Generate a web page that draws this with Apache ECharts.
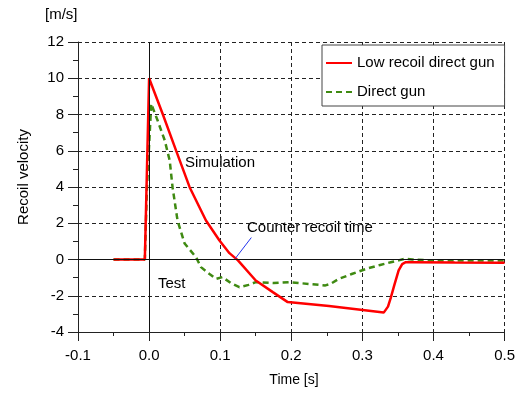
<!DOCTYPE html>
<html><head><meta charset="utf-8">
<script src="https://cdn.jsdelivr.net/npm/echarts@6/dist/echarts.min.js"></script>
<style>html,body{margin:0;padding:0;background:#fff}#c{width:518px;height:395px}</style>
</head><body><div id="c"></div>
<script>
const seriesNames = ['Low recoil direct gun', 'Direct gun'];
const lowRecoilT = [-0.05, -0.006, 0.0, 0.019, 0.038, 0.057, 0.080, 0.099, 0.113, 0.125, 0.150, 0.174, 0.195, 0.253, 0.330, 0.336, 0.340, 0.345, 0.351, 0.356, 0.361, 0.370, 0.430, 0.500];
const lowRecoilV = [0, 0, 10.0, 8.04, 6.01, 3.99, 2.15, 1.05, 0.35, -0.05, -1.16, -1.80, -2.35, -2.57, -2.93, -2.6, -2.1, -1.4, -0.6, -0.25, -0.15, -0.15, -0.17, -0.18];
const directT = [-0.05, -0.006, -0.003, 0.003, 0.012, 0.022, 0.029, 0.033, 0.040, 0.050, 0.066, 0.073, 0.085, 0.094, 0.103, 0.115, 0.127, 0.140, 0.150, 0.175, 0.197, 0.225, 0.248, 0.255, 0.267, 0.285, 0.305, 0.325, 0.340, 0.351, 0.360, 0.370, 0.400, 0.450, 0.500];
const directV = [0, 0, 4.0, 8.59, 7.67, 6.57, 5.46, 3.99, 2.15, 0.88, 0.13, -0.42, -0.8, -1.07, -0.97, -1.3, -1.53, -1.4, -1.25, -1.3, -1.25, -1.35, -1.43, -1.35, -1.07, -0.8, -0.52, -0.3, -0.15, -0.05, 0.05, 0.0, -0.05, -0.05, -0.05];
const xTicks = [-0.1, 0.0, 0.1, 0.2, 0.3, 0.4, 0.5];
const yTicks = [-4, -2, 0, 2, 4, 6, 8, 10, 12];
const counterArrow = [[0.1438, 1.21], [0.1213, 0.06]];

const FONT = '"Liberation Sans", Arial, sans-serif';
const zip = (a, b) => a.map((v, i) => [v, b[i]]);
const chart = echarts.init(document.getElementById('c'));
chart.setOption({
  animation: false,
  backgroundColor: '#fff',
  textStyle: { fontFamily: FONT, color: '#000' },
  grid: { left: 78, right: 12, top: 42, bottom: 63 },
  legend: {
    orient: 'vertical', left: 322, top: 45,
    data: seriesNames,
    backgroundColor: '#fff', borderColor: '#444', borderWidth: 1, borderRadius: 0,
    padding: [9, 10, 5, 3], itemGap: 11, itemWidth: 26, itemHeight: 14,
    itemStyle: { opacity: 0 },
    textStyle: { fontSize: 15, fontFamily: FONT, color: '#000', lineHeight: 18 }
  },
  xAxis: {
    type: 'value', min: xTicks[0], max: xTicks[xTicks.length - 1], interval: 0.1,
    axisLine: { onZero: false, lineStyle: { color: '#222', width: 1 } },
    axisTick: { length: 9, lineStyle: { color: '#222' } },
    minorTick: { show: true, splitNumber: 2, length: 4, lineStyle: { color: '#222' } },
    axisLabel: { fontSize: 15, fontFamily: FONT, color: '#000', margin: 16, formatter: v => v.toFixed(1) },
    splitLine: { show: true, lineStyle: { color: '#222', type: [4, 3], width: 1 } }
  },
  yAxis: {
    type: 'value', min: yTicks[0], max: yTicks[yTicks.length - 1], interval: 2,
    axisLine: { show: true, onZero: false, lineStyle: { color: '#222', width: 1 } },
    axisTick: { show: true, length: 10, lineStyle: { color: '#222' } },
    minorTick: { show: true, splitNumber: 2, length: 5, lineStyle: { color: '#222' } },
    axisLabel: { fontSize: 15, fontFamily: FONT, color: '#000', margin: 14 },
    splitLine: { show: true, lineStyle: { color: '#222', type: [4, 3], width: 1 } }
  },
  series: [
    {
      name: seriesNames[0], type: 'line', data: zip(lowRecoilT, lowRecoilV),
      symbol: 'none', smooth: false, z: 4,
      lineStyle: { color: '#ff0000', width: 2.5 }, itemStyle: { color: '#ff0000' },
      markLine: {
        silent: true, symbol: 'none', label: { show: false },
        lineStyle: { color: '#111', type: 'solid', width: 1 },
        data: [{ yAxis: 0 }, { xAxis: 0 }]
      }
    },
    {
      name: seriesNames[1], type: 'line', data: zip(directT, directV),
      symbol: 'none', z: 3,
      lineStyle: { color: '#3f8a12', width: 2.5, type: [6, 4] }, itemStyle: { color: '#3f8a12' },
      markLine: {
        silent: true, symbol: ['none', 'arrow'], symbolSize: [0, 8], label: { show: false },
        lineStyle: { color: '#2233ee', type: 'solid', width: 1 },
        data: [[{ coord: counterArrow[0] }, { coord: counterArrow[1] }]]
      }
    }
  ],
  graphic: [
    { type: 'text', left: 45, top: 7, style: { text: '[m/s]', font: '15px ' + FONT, fill: '#000' } },
    { type: 'text', x: 24, y: 177, rotation: Math.PI / 2, style: { text: 'Recoil velocity', font: '15px ' + FONT, fill: '#000', align: 'center', verticalAlign: 'middle' } },
    { type: 'text', x: 294, y: 380, style: { text: 'Time [s]', font: '14px ' + FONT, fill: '#000', align: 'center', verticalAlign: 'middle' } },
    { type: 'text', x: 185, y: 163, style: { text: 'Simulation', font: '15px ' + FONT, fill: '#000', verticalAlign: 'middle' } },
    { type: 'text', x: 247, y: 228, style: { text: 'Counter recoil time', font: '15px ' + FONT, fill: '#000', verticalAlign: 'middle' } },
    { type: 'text', x: 158, y: 284, style: { text: 'Test', font: '15px ' + FONT, fill: '#000', verticalAlign: 'middle' } }
  ]
});
</script></body></html>
